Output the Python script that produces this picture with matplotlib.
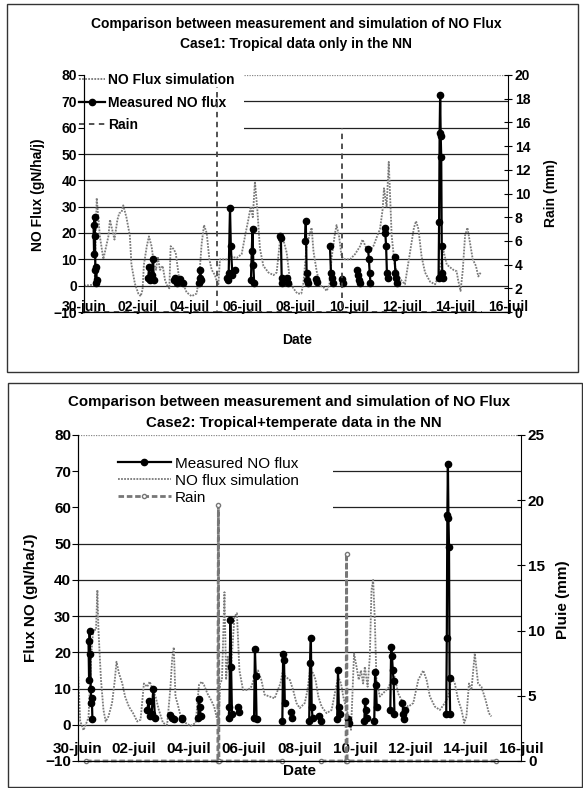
import matplotlib
matplotlib.use('Agg')
import matplotlib.pyplot as plt
import numpy as np
from matplotlib.patches import Rectangle

plt.rcParams['font.family'] = ['Liberation Sans', 'DejaVu Sans']

# Dates: days counted from 30-juin
date_ticks = [0, 2, 4, 6, 8, 10, 12, 14, 16]
date_labels = ['30-juin', '02-juil', '04-juil', '06-juil', '08-juil',
               '10-juil', '12-juil', '14-juil', '16-juil']

# ---- Case 1: simulated NO flux (gN/ha/j)
sim1_days = [0.0, 0.40, 0.48, 0.60, 0.73, 0.92, 0.98, 1.07, 1.15, 1.26, 1.33, 1.42, 1.48, 1.60,
             1.73, 1.79, 1.92, 2.05, 2.14, 2.21, 2.26, 2.37, 2.45, 2.55, 2.64, 2.72, 2.78, 2.87,
             2.97, 3.06, 3.14, 3.22, 3.27, 3.37, 3.46, 3.52, 3.60, 3.75, 3.87, 4.06, 4.25, 4.35,
             4.44, 4.53, 4.63, 4.73, 4.82, 4.94, 5.00, 5.07, 5.13, 5.44, 5.57, 5.76, 5.95, 6.08,
             6.20, 6.29, 6.37, 6.45, 6.54, 6.64, 6.77, 6.96, 7.15, 7.27, 7.40, 7.52, 7.65, 7.77,
             7.90, 8.05, 8.20, 8.28, 8.40, 8.53, 8.59, 8.66, 8.78, 8.91, 9.03, 9.16, 9.26, 9.35,
             9.47, 9.53, 9.63, 9.72, 9.85, 10.04, 10.23, 10.42, 10.51, 10.60, 10.73, 10.92, 11.07,
             11.17, 11.27, 11.32, 11.42, 11.50, 11.61, 11.73, 11.93, 12.11, 12.30, 12.45, 12.53,
             12.62, 12.74, 12.87, 13.06, 13.25, 13.37, 13.56, 13.69, 13.81, 13.94, 14.06, 14.12,
             14.21, 14.29, 14.38, 14.47, 14.57, 14.67, 14.79, 14.88, 14.97]
sim1_flux = [0.0, 0.4, 33.3, 18.7, 10.1, 18.7, 25.0, 21.0, 17.5, 25.0, 27.5, 28.0, 30.5, 26.0,
             19.0, 8.0, 0.8, -3.0, -4.0, -1.5, 8.0, 15.0, 18.7, 15.0, 8.0, 6.0, 11.0, 6.0,
             7.5, 2.0, 0.0, -1.0, 15.0, 14.0, 12.5, 8.0, 2.0, 0.5, -2.5, -4.0, -3.0, 3.5,
             16.0, 23.0, 20.0, 10.0, 6.0, 4.0, 2.0, 0.5, 10.0, 10.0, 11.0, 10.5, 12.0, 19.0,
             25.0, 30.0, 26.0, 39.5, 29.0, 14.0, 7.5, 5.0, 4.0, 5.0, 17.5, 17.5, 12.5, 2.0,
             -1.0, -3.0, -3.0, 1.0, 15.0, 20.0, 22.0, 13.0, 5.5, 0.0, -0.5, -2.0, 0.5, 11.0,
             19.8, 23.0, 18.5, 11.0, 10.0, 10.0, 12.0, 15.0, 17.5, 15.5, 12.5, 15.0, 19.0,
             21.5, 29.0, 37.0, 30.0, 47.0, 19.0, 7.5, 2.5, 0.5, 12.5, 22.0, 24.5,
             21.5, 11.0, 5.0, 1.5, 0.5, 3.5, 13.5, 8.0, 7.0, 6.0, 5.5, 2.0,
             -2.0, 5.5, 19.0, 22.0, 16.0, 10.0, 7.5, 3.5, 5.0]

# ---- Case 1: measured NO flux, one list per measuring session
meas1_days = [
    [0.36, 0.38, 0.40, 0.41, 0.43, 0.44, 0.46, 0.48],
    [2.42, 2.46, 2.50, 2.55, 2.60, 2.64],
    [3.38, 3.44, 3.50, 3.62, 3.72],
    [4.33, 4.36, 4.39, 4.42],
    [5.38, 5.42, 5.46, 5.51, 5.54, 5.60, 5.70],
    [6.30, 6.33, 6.36, 6.39, 6.42],
    [7.40, 7.43, 7.46, 7.49],
    [7.66, 7.70],
    [8.34, 8.37, 8.40, 8.43, 8.46],
    [8.75, 8.80],
    [9.28, 9.32, 9.36, 9.40],
    [9.72, 9.76],
    [10.30, 10.34, 10.38, 10.42],
    [10.72, 10.75, 10.78, 10.81],
    [11.34, 11.37, 11.40, 11.43, 11.46],
    [11.72, 11.75, 11.78, 11.81],
    [13.38, 13.40, 13.42, 13.44, 13.46, 13.48, 13.50, 13.52, 13.54],
]
meas1_vals = [
    [23, 12, 26, 19, 6, 1, 7, 2],
    [3, 7, 2, 4, 10, 2],
    [2, 3, 1, 2.5, 1],
    [1, 3, 6, 2],
    [3, 2, 5, 29.5, 15, 4, 6],
    [2, 13, 21.5, 8, 1],
    [19, 18, 3, 1],
    [3, 1],
    [17, 24.5, 5, 2, 1],
    [2.5, 1.5],
    [15, 5, 3, 1],
    [2.5, 1],
    [6, 4, 2, 1],
    [14, 10, 5, 1],
    [22, 20, 15, 5, 3],
    [11, 5, 3, 1],
    [3, 24, 58, 72.5, 57, 49, 15, 5, 3],
]

# ---- Case 1: rain (mm); nan keeps the dashes of each shower from doubling back
rain1_days = [0.0, 5.0, 5.0, np.nan, 5.02, 9.72, 9.72, np.nan, 9.74, 15.0]
rain1_mm = [0, 0, 19.0, np.nan, 0, 0, 15.5, np.nan, 0, 0]

# ---- Case 2: simulated NO flux
sim2_days = [0.0, 0.08, 0.20, 0.38, 0.48, 0.55, 0.65, 0.70, 0.74, 0.83, 0.92, 1.00, 1.10, 1.23,
             1.33, 1.39, 1.48, 1.60, 1.70, 1.84, 1.99, 2.14, 2.26, 2.38, 2.50, 2.59, 2.71, 2.80,
             2.92, 3.07, 3.22, 3.34, 3.40, 3.46, 3.52, 3.59, 3.71, 3.89, 4.07, 4.25, 4.37, 4.47,
             4.55, 4.67, 4.80, 4.92, 5.00, 5.08, 5.13, 5.20, 5.29, 5.35, 5.41, 5.50, 5.65, 5.74,
             5.83, 5.96, 6.14, 6.26, 6.38, 6.50, 6.62, 6.74, 6.92, 7.10, 7.22, 7.31, 7.40, 7.50,
             7.65, 7.77, 7.89, 8.01, 8.19, 8.29, 8.38, 8.50, 8.58, 8.68, 8.80, 8.98, 9.16, 9.30,
             9.40, 9.50, 9.58, 9.70, 9.78, 9.86, 9.90, 9.97, 10.06, 10.14, 10.22, 10.30, 10.36,
             10.46, 10.54, 10.60, 10.66, 10.72, 10.78, 10.90, 11.02, 11.20, 11.33, 11.44, 11.56,
             11.74, 11.93, 12.11, 12.29, 12.47, 12.59, 12.71, 12.89, 13.07, 13.25, 13.37, 13.49,
             13.61, 13.73, 13.85, 13.95, 14.03, 14.12, 14.21, 14.33, 14.45, 14.57, 14.72, 14.84,
             14.93]
sim2_flux = [15.0, 1.0, -1.5, 2.0, 19.7, 26.2, 26.2, 37.2, 26.0, 12.4, 4.1, 0.9, 2.3, 6.0,
             12.4, 17.4, 14.2, 11.4, 7.8, 5.0, 3.2, 0.9, 1.4, 11.4, 10.5, 11.9, 9.6, 7.8,
             4.1, 0.5, 0.0, 10.5, 18.2, 21.4, 7.8, 6.0, 2.3, 0.5, -0.3, 0.5, 11.0, 11.9,
             11.0, 8.7, 6.9, 5.0, 2.3, 0.0, 11.4, 12.4, 36.6, 12.4, 18.8, 12.4, 29.8, 30.8,
             15.0, 9.6, 9.6, 10.5, 13.2, 15.0, 12.4, 8.3, 7.8, 7.3, 9.6, 11.4, 15.0, 13.2,
             12.4, 9.6, 6.0, 4.6, 6.0, 9.6, 15.0, 14.2, 12.4, 7.8, 5.0, 3.2, 4.1, 9.6,
             13.2, 11.4, 7.8, 4.1, 2.3, -1.4, 6.0, 19.7, 16.0, 12.4, 15.0, 11.4, 16.0,
             10.5, 18.8, 37.2, 40.0, 28.9, 12.4, 7.8, 8.7, 10.1, 12.4, 13.2, 8.7,
             6.0, 5.0, 6.0, 12.4, 15.0, 12.4, 7.8, 5.0, 4.1, 6.0, 7.8, 13.2,
             11.4, 6.9, 4.1, 0.5, 2.3, 11.4, 9.6, 19.7, 11.4, 10.5, 6.9, 3.2,
             2.3]

# ---- Case 2: measured NO flux
meas2_days = [
    [0.38, 0.40, 0.42, 0.44, 0.46, 0.48, 0.50, 0.52],
    [2.50, 2.55, 2.60, 2.66, 2.72, 2.78],
    [3.34, 3.40, 3.46],
    [3.74, 3.77],
    [4.34, 4.37, 4.40, 4.43],
    [5.44, 5.47, 5.50, 5.53, 5.56],
    [5.78, 5.81],
    [6.36, 6.39, 6.42, 6.45],
    [7.38, 7.41, 7.44, 7.47],
    [7.70, 7.73],
    [8.35, 8.38, 8.41, 8.44, 8.47],
    [8.72, 8.76],
    [9.36, 9.39, 9.42, 9.45],
    [9.74, 9.78],
    [10.34, 10.37, 10.40, 10.43],
    [10.70, 10.73, 10.76, 10.79],
    [11.28, 11.31, 11.34, 11.37, 11.40, 11.43],
    [11.72, 11.75, 11.78, 11.81],
    [13.30, 13.32, 13.34, 13.36, 13.38, 13.40, 13.42, 13.44],
]
meas2_vals = [
    [23, 12.5, 26, 19.5, 10, 6, 7.5, 1.5],
    [4, 6.5, 2.5, 3, 10, 2],
    [2.7, 2, 1.5],
    [1.5, 2],
    [2, 7, 5, 2.5],
    [2, 5, 29, 16, 3],
    [5, 3.5],
    [2, 21, 13.5, 1.5],
    [1, 19.5, 18, 6],
    [3.5, 2],
    [1, 17, 24, 5, 2],
    [2.5, 1],
    [1.5, 15, 5, 3],
    [1.5, 0.5],
    [1, 6.5, 4, 2],
    [1, 14.5, 11, 5],
    [4, 21.5, 19, 15, 12, 3],
    [6, 3, 1.5, 4],
    [3, 24, 58, 72, 57, 49, 13, 3],
]

# ---- Case 2: rain (mm), no record between the two segments
rain2_days = [0.29, 5.05, 5.07, 5.09, 7.36, np.nan, 8.77, 9.68, 9.70, 9.72, 15.09]
rain2_mm = [0, 0, 19.6, 0, 0, np.nan, 0, 0, 15.9, 0, 0]

W, H = 583, 788
SIM_STYLE = dict(color='#7a7a7a', lw=1.3, ls=(0, (1, 0.7)))
MEAS_STYLE = dict(color='black', lw=1.6, marker='o', ms=4.5)


def px(x, y):
    """pixel position (from top-left) -> figure fraction"""
    return x / W, 1 - y / H


def setup_axes(ax, ax2, rain_max, rain_step, tick_pad):
    ax.set_xlim(0, 16)
    ax.set_ylim(-10, 80)
    ax.set_yticks(np.arange(-10, 81, 10))
    ax.set_xticks(date_ticks)
    ax.set_xticklabels(date_labels)
    ax.tick_params(axis='x', length=0, pad=tick_pad, labelsize=10)
    ax.tick_params(axis='y', length=4, direction='out', labelsize=10, pad=1)
    for lab in ax.get_xticklabels() + ax.get_yticklabels():
        lab.set_fontweight('bold')
    ax.yaxis.grid(True, color='#222222', lw=0.9)
    grid = ax.get_ygridlines()
    grid[-1].set_color('#888888')
    grid[-1].set_linestyle((0, (1, 1)))
    for s in ['top', 'right']:
        ax.spines[s].set_visible(False)

    ax2.set_ylim(0, rain_max)
    ax2.set_yticks(np.arange(0, rain_max + 1, rain_step))
    ax2.tick_params(axis='y', length=6, direction='inout', labelsize=10, pad=2)
    for lab in ax2.get_yticklabels():
        lab.set_fontweight('bold')
    ax2.spines['top'].set_visible(False)


def plot_case1(fig):
    l, b = px(84, 312)
    r, t = px(508, 75)
    ax = fig.add_axes([l, b, r - l, t - b])
    ax2 = ax.twinx()
    setup_axes(ax, ax2, 20, 2, -9)

    # white background behind legend hides the gridlines there
    ax.add_patch(Rectangle((0, 0.745), 0.377, 0.27, transform=ax.transAxes,
                           facecolor='white', edgecolor='none', zorder=1.7, clip_on=False))

    h_sim, = ax.plot(sim1_days, sim1_flux, zorder=2, **SIM_STYLE)
    h_meas = None
    for d, v in zip(meas1_days, meas1_vals):
        ln, = ax.plot(d, v, zorder=3, **MEAS_STYLE)
        h_meas = h_meas or ln
    h_rain, = ax2.plot(rain1_days, rain1_mm, color='#444444', lw=1.3, ls=(0, (3, 2.5)),
                       clip_on=False)

    ax.legend([h_sim, h_meas, h_rain], ['NO Flux simulation', 'Measured NO flux', 'Rain'],
              loc='upper left', bbox_to_anchor=px(72, 66), bbox_transform=fig.transFigure,
              frameon=False, borderpad=0, handlelength=1.9, handletextpad=0.2,
              labelspacing=0.62, prop={'weight': 'bold', 'size': 10})

    fig.text(*px(296, 24), 'Comparison between measurement and simulation of NO Flux',
             ha='center', va='center', fontsize=10, fontweight='bold')
    fig.text(*px(296, 44), 'Case1: Tropical data only in the NN',
             ha='center', va='center', fontsize=10, fontweight='bold')
    fig.text(*px(38, 195), 'NO Flux (gN/ha/j)', rotation=90, ha='center', va='center',
             fontsize=10, fontweight='bold')
    fig.text(*px(551, 193), 'Rain (mm)', rotation=90, ha='center', va='center',
             fontsize=10, fontweight='bold')
    fig.text(*px(297, 340), 'Date', ha='center', va='center', fontsize=10, fontweight='bold')


def plot_case2(fig):
    l, b = px(78, 761)
    r, t = px(521, 435)
    ax = fig.add_axes([l, b, r - l, t - b])
    ax2 = ax.twinx()
    setup_axes(ax, ax2, 25, 5, -14)
    for lab in ax.get_xticklabels() + ax.get_yticklabels() + ax2.get_yticklabels():
        lab.set_fontsize(11)

    ax.add_patch(Rectangle((0, 0.72), 0.576, 0.265, transform=ax.transAxes,
                           facecolor='white', edgecolor='none', zorder=1.7))

    h_sim, = ax.plot(sim2_days, sim2_flux, zorder=2, **SIM_STYLE)
    h_meas = None
    for d, v in zip(meas2_days, meas2_vals):
        ln, = ax.plot(d, v, zorder=3, **MEAS_STYLE)
        h_meas = h_meas or ln
    h_rain, = ax2.plot(rain2_days, rain2_mm, color='#777777', lw=2.0, ls=(0, (2, 1)),
                       marker='o', ms=3, mfc='white', mec='#777777', clip_on=False)

    ax.legend([h_meas, h_sim, h_rain], ['Measured NO flux', 'NO flux simulation', 'Rain'],
              loc='upper left', bbox_to_anchor=px(110, 449), bbox_transform=fig.transFigure,
              frameon=False, borderpad=0, handlelength=3.5, handletextpad=0.25,
              labelspacing=0.2, prop={'size': 11})

    fig.text(*px(289, 402), 'Comparison between measurement and simulation of NO Flux',
             ha='center', va='center', fontsize=10.8, fontweight='bold')
    fig.text(*px(294, 423), 'Case2: Tropical+temperate data in the NN',
             ha='center', va='center', fontsize=10.8, fontweight='bold')
    fig.text(*px(31, 598), 'Flux NO (gN/ha/J)', rotation=90, ha='center', va='center',
             fontsize=11, fontweight='bold')
    fig.text(*px(563, 600), 'Pluie (mm)', rotation=90, ha='center', va='center',
             fontsize=11, fontweight='bold')
    fig.text(*px(300, 771), 'Date', ha='center', va='center', fontsize=11, fontweight='bold')


fig = plt.figure(figsize=(W / 100, H / 100), dpi=100)

# panel frames
for x0, y0, x1, y1 in [(7, 4, 578, 372), (8, 383, 582, 787)]:
    fx0, fy1 = px(x0, y1)
    fx1, fy0 = px(x1, y0)
    fig.add_artist(Rectangle((fx0, fy1), fx1 - fx0, fy0 - fy1, transform=fig.transFigure,
                             facecolor='none', edgecolor='#333333', lw=1.0))

plot_case1(fig)
plot_case2(fig)

fig.savefig('out.png', dpi=100)
